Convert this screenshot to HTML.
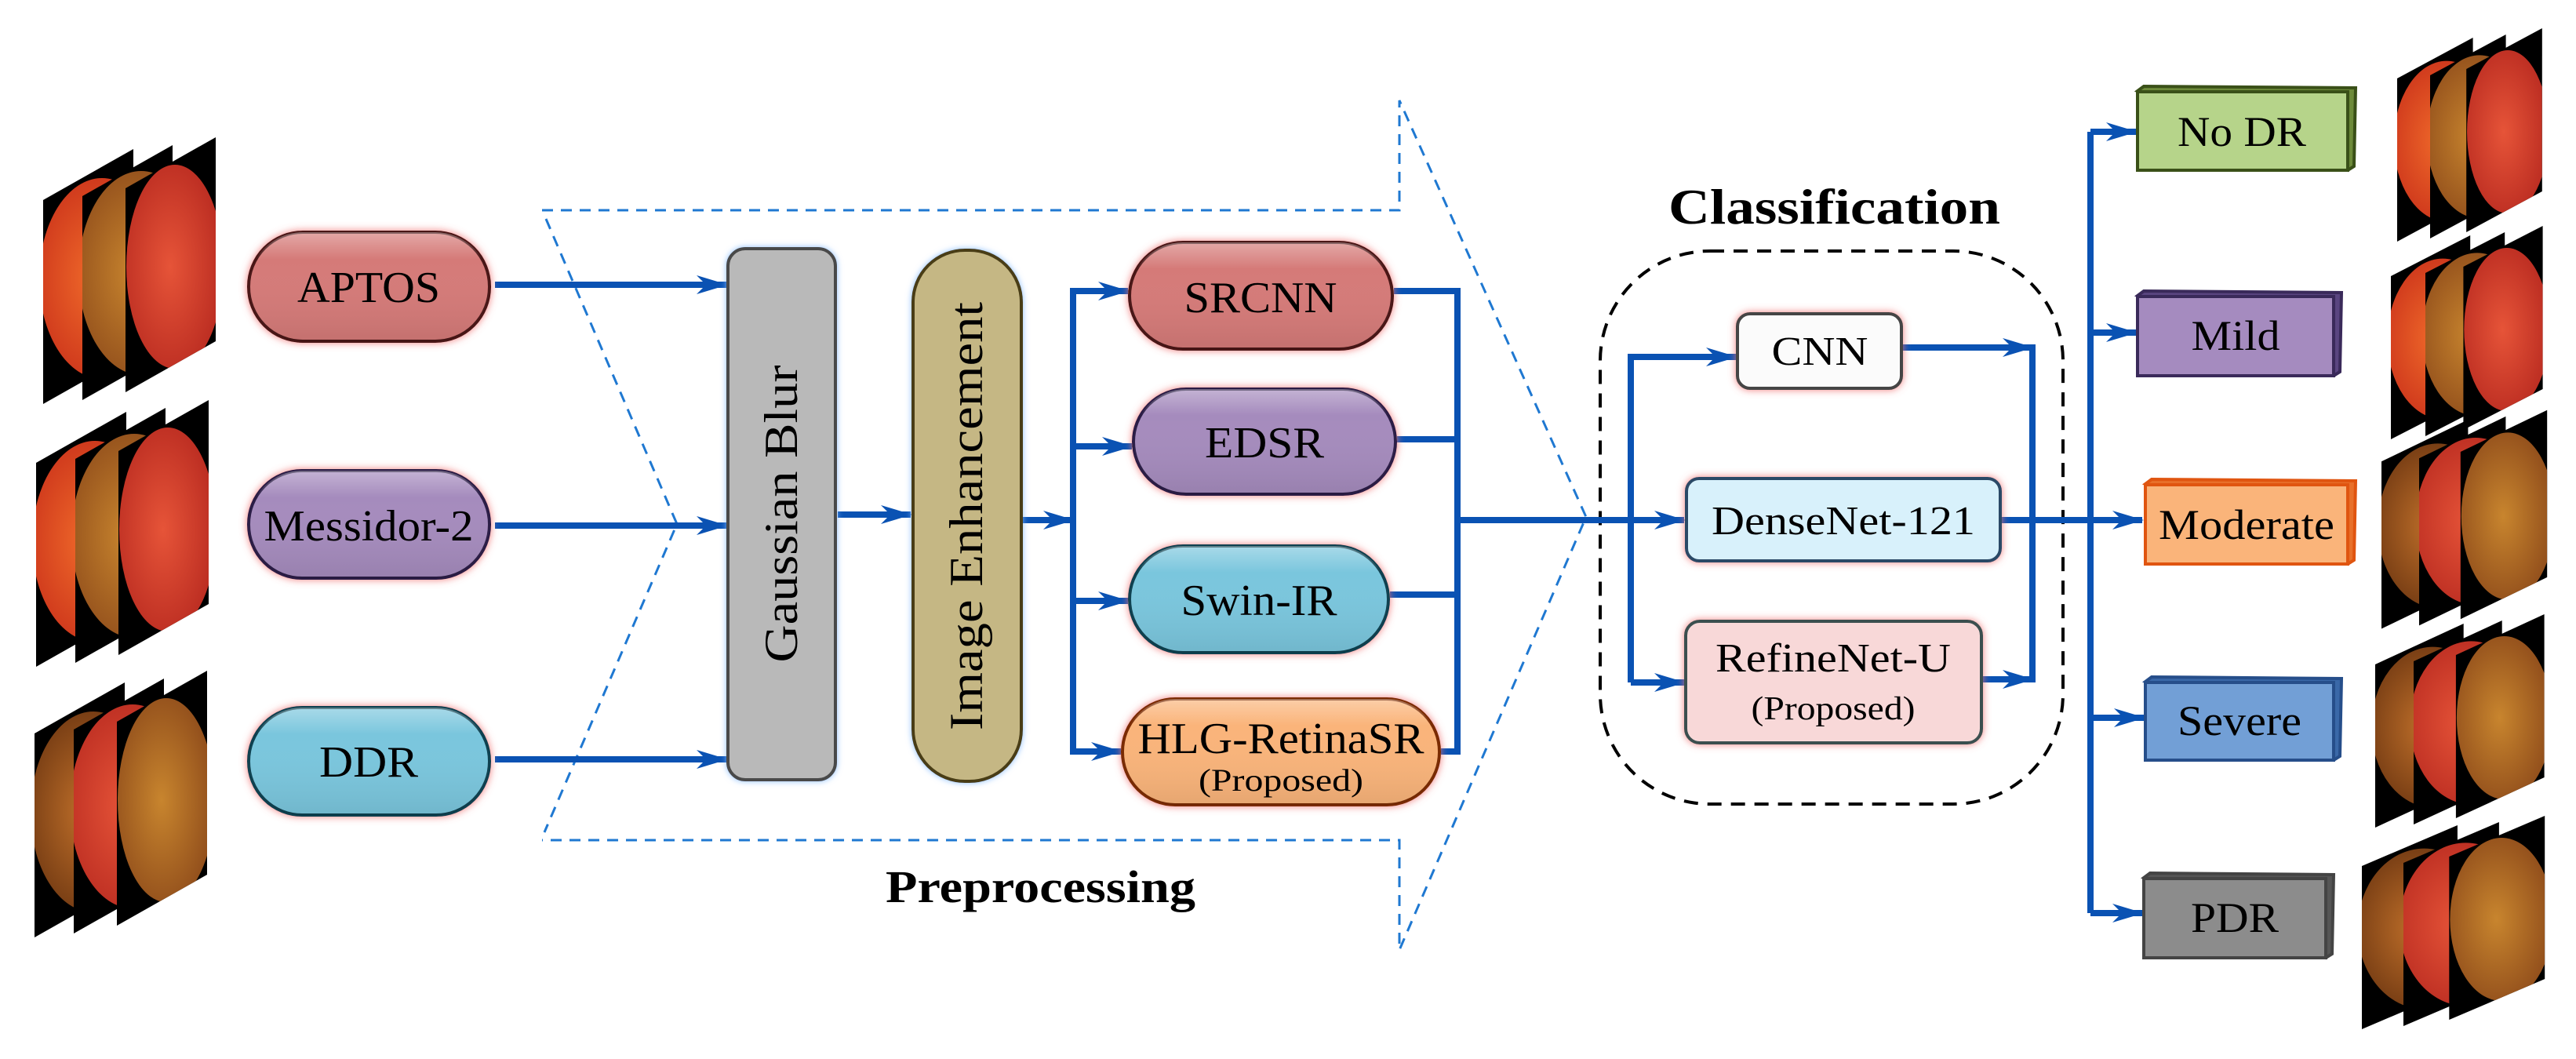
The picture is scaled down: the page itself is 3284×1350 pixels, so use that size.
<!DOCTYPE html>
<html><head><meta charset="utf-8"><style>html,body{margin:0;padding:0;background:#fff}svg{display:block}text{font-family:"Liberation Serif","Times New Roman",serif}</style></head>
<body>
<svg xmlns="http://www.w3.org/2000/svg" width="3284" height="1350" viewBox="0 0 3284 1350">
<defs>
<marker id="ar" viewBox="0 0 40 28" refX="38" refY="14" markerWidth="40" markerHeight="28" markerUnits="userSpaceOnUse" orient="auto">
<path d="M0,2 L40,14 L0,26 L12,14 Z" fill="#0a52b3"/></marker>
<radialGradient id="f1" cx="0.45" cy="0.5" r="0.6"><stop offset="0" stop-color="#f06a2a"/><stop offset="1" stop-color="#c9301a"/></radialGradient>
<radialGradient id="f2" cx="0.45" cy="0.5" r="0.6"><stop offset="0" stop-color="#c8852e"/><stop offset="1" stop-color="#8d4a1a"/></radialGradient>
<radialGradient id="f3" cx="0.45" cy="0.5" r="0.6"><stop offset="0" stop-color="#e65438"/><stop offset="1" stop-color="#b82a20"/></radialGradient>
<radialGradient id="f4" cx="0.45" cy="0.5" r="0.6"><stop offset="0" stop-color="#c0702a"/><stop offset="1" stop-color="#6a3410"/></radialGradient>
<filter id="glowR" x="-20%" y="-30%" width="140%" height="160%"><feDropShadow dx="0" dy="0" stdDeviation="5" flood-color="#f07070" flood-opacity="0.9"/></filter>
<filter id="glowB" x="-20%" y="-10%" width="140%" height="120%"><feDropShadow dx="0" dy="0" stdDeviation="4" flood-color="#80b8ff" flood-opacity="0.9"/></filter>
<linearGradient id="shine" x1="0" y1="0" x2="0" y2="1"><stop offset="0" stop-color="#fff" stop-opacity="0.35"/><stop offset="0.25" stop-color="#fff" stop-opacity="0"/><stop offset="1" stop-color="#000" stop-opacity="0.08"/></linearGradient>
<clipPath id="c1"><polygon points="0,65 115,0 115,260 0,325"/></clipPath>
<clipPath id="c2"><polygon points="50,60 165,-5 165,255 50,320"/></clipPath>
<clipPath id="c3"><polygon points="105,50 220,-15 220,245 105,310"/></clipPath>
<g id="stk">
<polygon points="0,65 115,0 115,260 0,325" fill="#000"/>
<ellipse cx="75" cy="165" rx="80" ry="128" fill="url(#f1)" clip-path="url(#c1)"/>
<polygon points="50,60 165,-5 165,255 50,320" fill="#000"/>
<ellipse cx="125" cy="158" rx="80" ry="130" fill="url(#f2)" clip-path="url(#c2)"/>
<polygon points="105,50 220,-15 220,245 105,310" fill="#000"/>
<ellipse cx="168" cy="150" rx="62" ry="130" fill="url(#f3)" clip-path="url(#c3)"/>
</g>
<g id="stk2">
<polygon points="0,65 115,0 115,260 0,325" fill="#000"/>
<ellipse cx="75" cy="165" rx="80" ry="128" fill="url(#f4)" clip-path="url(#c1)"/>
<polygon points="50,60 165,-5 165,255 50,320" fill="#000"/>
<ellipse cx="125" cy="158" rx="80" ry="130" fill="url(#f3)" clip-path="url(#c2)"/>
<polygon points="105,50 220,-15 220,245 105,310" fill="#000"/>
<ellipse cx="168" cy="150" rx="62" ry="130" fill="url(#f2)" clip-path="url(#c3)"/>
</g>
</defs>

<use href="#stk" transform="translate(55,190)"/>
<use href="#stk" transform="translate(46,525)"/>
<use href="#stk2" transform="translate(44,870)"/>
<use href="#stk" transform="translate(3056,48) scale(0.84,0.8)"/>
<use href="#stk" transform="translate(3048,300) scale(0.88,0.8)"/>
<use href="#stk2" transform="translate(3036,535) scale(0.96,0.82)"/>
<use href="#stk2" transform="translate(3028,795) scale(0.98,0.8)"/>
<use href="#stk2" transform="translate(3011,1052) scale(1.06,0.8)"/>

<g fill="none" stroke="#1f78d1" stroke-width="3" stroke-dasharray="14,10">
<polyline points="691,268 1784,268 1784,128 2022,659 1784,1211 1784,1071 691,1071"/>
<polyline points="696,279 863,668 694,1061"/>
</g>
<text x="1129" y="1150" font-size="58" font-weight="bold" textLength="395" lengthAdjust="spacingAndGlyphs">Preprocessing</text>

<rect x="2040" y="320" width="590" height="705" rx="140" fill="none" stroke="#000" stroke-width="4" stroke-dasharray="18,12"/>
<text x="2127" y="285" font-size="64" font-weight="bold" textLength="423" lengthAdjust="spacingAndGlyphs">Classification</text>

<g stroke="#0a52b3" stroke-width="8" fill="none">
<line x1="631" y1="363" x2="926" y2="363" marker-end="url(#ar)"/>
<line x1="631" y1="670" x2="926" y2="670" marker-end="url(#ar)"/>
<line x1="631" y1="968" x2="926" y2="968" marker-end="url(#ar)"/>
<line x1="1068" y1="656" x2="1161" y2="656" marker-end="url(#ar)"/>
<line x1="1303" y1="663" x2="1368" y2="663" marker-end="url(#ar)"/>
<polyline points="1438,371 1368,371 1368,958 1429,958"/>
<line x1="1368" y1="371" x2="1438" y2="371" marker-end="url(#ar)"/>
<line x1="1368" y1="569" x2="1443" y2="569" marker-end="url(#ar)"/>
<line x1="1368" y1="766" x2="1438" y2="766" marker-end="url(#ar)"/>
<line x1="1368" y1="958" x2="1429" y2="958" marker-end="url(#ar)"/>
<polyline points="1777,371 1858,371 1858,958 1837,958"/>
<line x1="1781" y1="560" x2="1858" y2="560"/>
<line x1="1772" y1="758" x2="1858" y2="758"/>
<line x1="1858" y1="663" x2="2147" y2="663" marker-end="url(#ar)"/>
<polyline points="2213,455 2079,455 2079,870"/>
<line x1="2079" y1="455" x2="2213" y2="455" marker-end="url(#ar)"/>
<line x1="2079" y1="870" x2="2147" y2="870" marker-end="url(#ar)"/>
<line x1="2426" y1="443" x2="2591" y2="443" marker-end="url(#ar)"/>
<line x1="2528" y1="866" x2="2591" y2="866" marker-end="url(#ar)"/>
<line x1="2591" y1="439" x2="2591" y2="870"/>
<line x1="2552" y1="663" x2="2731" y2="663" marker-end="url(#ar)"/>
<line x1="2665" y1="168" x2="2665" y2="1164"/>
<line x1="2665" y1="168" x2="2723" y2="168" marker-end="url(#ar)"/>
<line x1="2665" y1="424" x2="2723" y2="424" marker-end="url(#ar)"/>
<line x1="2665" y1="915" x2="2733" y2="915" marker-end="url(#ar)"/>
<line x1="2665" y1="1164" x2="2731" y2="1164" marker-end="url(#ar)"/>
</g>

<g filter="url(#glowR)" stroke-width="4">
<rect x="317" y="296" width="307" height="139" rx="69" fill="#d57a78" stroke="#4a1515"/>
<rect x="317" y="600" width="307" height="137" rx="68" fill="#a58bbd" stroke="#2a1a45"/>
<rect x="317" y="902" width="307" height="137" rx="68" fill="#7ac6dd" stroke="#0f3f50"/>
<rect x="1440" y="309" width="335" height="136" rx="68" fill="#d57a78" stroke="#4a1515"/>
<rect x="1445" y="496" width="334" height="134" rx="67" fill="#a58bbd" stroke="#2a1a45"/>
<rect x="1440" y="696" width="330" height="136" rx="68" fill="#7ac6dd" stroke="#0f3f50"/>
<rect x="1431" y="891" width="404" height="135" rx="67" fill="#fab47a" stroke="#7a2a05"/>
<rect x="2215" y="400" width="209" height="95" rx="16" fill="#fbfbfb" stroke="#444"/>
<rect x="2150" y="610" width="400" height="105" rx="16" fill="#d8f1fb" stroke="#2c4a66"/>
<rect x="2149" y="792" width="377" height="155" rx="18" fill="#f8d8d8" stroke="#3a5050"/>
</g>
<g fill="url(#shine)">
<rect x="317" y="296" width="307" height="139" rx="69"/>
<rect x="317" y="600" width="307" height="137" rx="68"/>
<rect x="317" y="902" width="307" height="137" rx="68"/>
<rect x="1440" y="309" width="335" height="136" rx="68"/>
<rect x="1445" y="496" width="334" height="134" rx="67"/>
<rect x="1440" y="696" width="330" height="136" rx="68"/>
<rect x="1431" y="891" width="404" height="135" rx="67"/>
</g>
<g filter="url(#glowB)" stroke-width="4">
<rect x="928" y="317" width="137" height="677" rx="22" fill="#b9b9b9" stroke="#4a4a4a"/>
<rect x="1164" y="319" width="138" height="677" rx="66" fill="#c5b784" stroke="#4a3e18"/>
</g>
<g font-size="56" text-anchor="middle" fill="#000">
<text x="470" y="385" textLength="182" lengthAdjust="spacingAndGlyphs">APTOS</text>
<text x="470" y="689" textLength="267" lengthAdjust="spacingAndGlyphs">Messidor-2</text>
<text x="470" y="990" textLength="126" lengthAdjust="spacingAndGlyphs">DDR</text>
<text x="1607" y="398" textLength="195" lengthAdjust="spacingAndGlyphs">SRCNN</text>
<text x="1612" y="583" textLength="152" lengthAdjust="spacingAndGlyphs">EDSR</text>
<text x="1605" y="784" textLength="199" lengthAdjust="spacingAndGlyphs">Swin-IR</text>
<text x="1633" y="960" textLength="365" lengthAdjust="spacingAndGlyphs">HLG-RetinaSR</text>
<text x="1633" y="1008" font-size="40" textLength="210" lengthAdjust="spacingAndGlyphs">(Proposed)</text>
<text x="2320" y="465" font-size="52" textLength="123" lengthAdjust="spacingAndGlyphs">CNN</text>
<text x="2350" y="681" font-size="52" textLength="336" lengthAdjust="spacingAndGlyphs">DenseNet-121</text>
<text x="2337" y="856" font-size="52" textLength="300" lengthAdjust="spacingAndGlyphs">RefineNet-U</text>
<text x="2337" y="917" font-size="42" textLength="209" lengthAdjust="spacingAndGlyphs">(Proposed)</text>
<text transform="translate(1016,655) rotate(-90)" font-size="60" textLength="379" lengthAdjust="spacingAndGlyphs">Gaussian Blur</text>
<text transform="translate(1252,658) rotate(-90)" font-size="60" textLength="546" lengthAdjust="spacingAndGlyphs">Image Enhancement</text>
</g>

<g stroke-width="4">
<polygon points="2725,116 2733,110 3003,112 3001,212 2993,217" fill="#6d8a3a" stroke="#3a5018"/>
<rect x="2725" y="117" width="268" height="100" fill="#b6d48a" stroke="#3a5018"/>
<polygon points="2725,377 2733,371 2985,373 2983,474 2975,479" fill="#5a4580" stroke="#3a2a5a"/>
<rect x="2725" y="378" width="250" height="101" fill="#a58bbf" stroke="#3a2a5a"/>
<polygon points="2735,617 2743,611 3003,613 3001,714 2993,719" fill="#e8702a" stroke="#e05510"/>
<rect x="2735" y="618" width="258" height="101" fill="#fab47a" stroke="#e05510"/>
<polygon points="2735,869 2743,863 2985,865 2983,964 2975,969" fill="#3a68a8" stroke="#264e8a"/>
<rect x="2735" y="870" width="240" height="99" fill="#729fd6" stroke="#264e8a"/>
<polygon points="2733,1119 2741,1113 2975,1115 2973,1216 2965,1221" fill="#555" stroke="#444"/>
<rect x="2733" y="1120" width="232" height="101" fill="#8c8c8c" stroke="#444"/>
</g>
<g font-size="54" text-anchor="middle">
<text x="2858" y="186" textLength="164" lengthAdjust="spacingAndGlyphs">No DR</text>
<text x="2850" y="446" textLength="113" lengthAdjust="spacingAndGlyphs">Mild</text>
<text x="2864" y="687" textLength="224" lengthAdjust="spacingAndGlyphs">Moderate</text>
<text x="2855" y="937" textLength="158" lengthAdjust="spacingAndGlyphs">Severe</text>
<text x="2849" y="1188" textLength="112" lengthAdjust="spacingAndGlyphs">PDR</text>
</g>
</svg>
</body></html>
